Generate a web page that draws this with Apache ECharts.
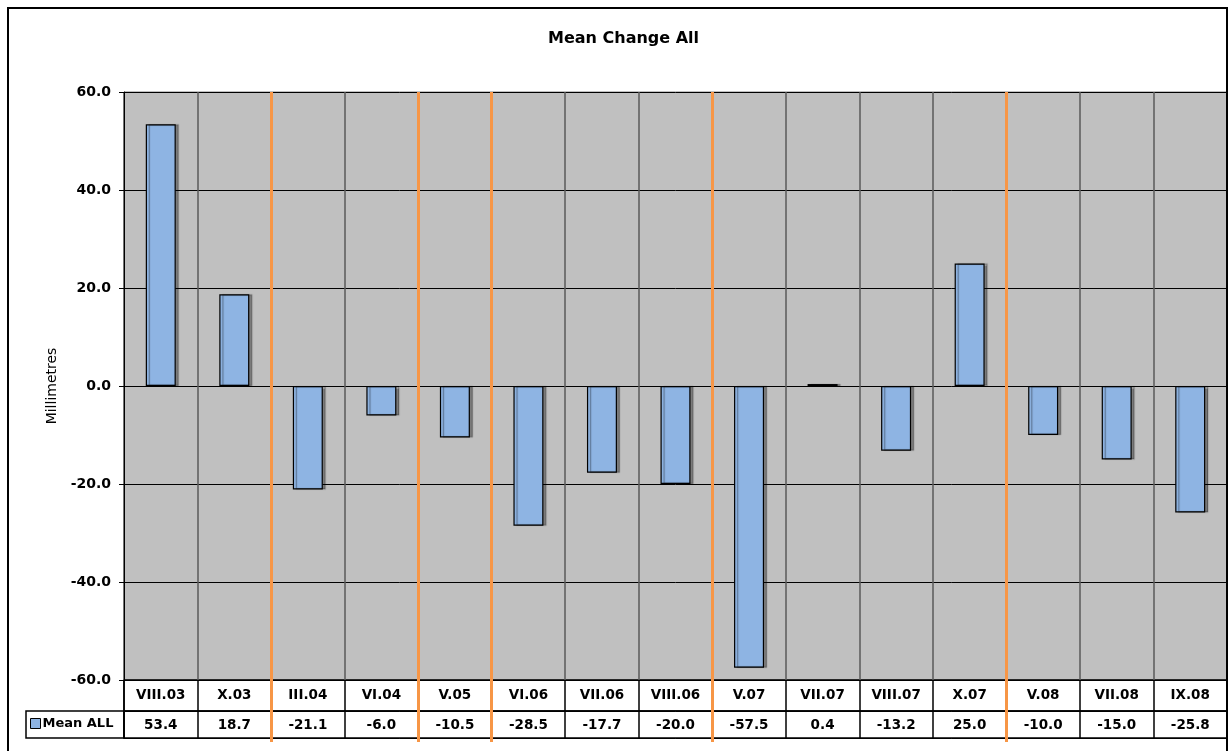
<!DOCTYPE html>
<html>
<head>
<meta charset="utf-8">
<script src="https://cdn.jsdelivr.net/npm/echarts@6/dist/echarts.min.js"></script>
<style>
html,body{margin:0;padding:0;background:#fff;}
#chart{width:1228px;height:751px;}
</style>
</head>
<body>
<div id="chart"></div>
<script>
// ---- data ----
const categories = ['VIII.03','X.03','III.04','VI.04','V.05','VI.06','VII.06','VIII.06','V.07','VII.07','VIII.07','X.07','V.08','VII.08','IX.08'];
const meanAll = [53.4, 18.7, -21.1, -6.0, -10.5, -28.5, -17.7, -20.0, -57.5, 0.4, -13.2, 25.0, -10.0, -15.0, -25.8];
const yTicks = { min: -60, max: 60, step: 20 };
// boundaries (number of categories before the orange divider)
const yearBreaks = [2, 4, 5, 8, 12];
const seriesName = 'Mean ALL';
const titleText = 'Mean Change All';
const yAxisName = 'Millimetres';

const FONT = 'DejaVu Sans, Liberation Sans, Arial, sans-serif';
const chart = echarts.init(document.getElementById('chart'));

const PL = 124, PW = 1103;

chart.setOption({
  animation: false,
  backgroundColor: '#ffffff',
  title: {
    text: titleText, left: 548, top: 31, padding: 0,
    textStyle: { fontFamily: FONT, fontSize: 16, fontWeight: 'bold', color: '#000' }
  },
  legend: {
    data: [seriesName], left: 30, top: 717, itemWidth: 10, itemHeight: 10, itemGap: 4,
    icon: 'rect', padding: 0,
    itemStyle: { borderColor: '#000', borderWidth: 1 },
    textStyle: { fontFamily: FONT, fontSize: 13, fontWeight: 'bold', color: '#000', padding: [0,0,0,-3] }
  },
  graphic: [
    { type: 'rect', shape: { x: 8, y: 8, width: 1219, height: 780 }, style: { fill: 'none', stroke: '#000', lineWidth: 2 }, silent: true, z: 100 },
    { type: 'rect', shape: { x: 26, y: 711, width: 98, height: 27 }, style: { fill: 'none', stroke: '#000', lineWidth: 1.5 }, silent: true, z: 100 }
  ],
  grid: [
    { left: PL, top: 92, width: PW, height: 588, show: true, backgroundColor: '#c0c0c0', borderColor: '#808080', borderWidth: 1 },
    { left: PL, top: 680, width: PW, height: 31, show: true, backgroundColor: '#fff', borderColor: '#000', borderWidth: 1.5 },
    { left: PL, top: 711, width: PW, height: 27, show: true, backgroundColor: '#fff', borderColor: '#000', borderWidth: 1.5 },
    { left: PL, top: 92, width: PW, height: 650 }
  ],
  xAxis: [
    { gridIndex: 0, type: 'category', data: categories,
      axisLine: { onZero: false, lineStyle: { color: '#000', width: 1 } },
      axisTick: { show: false }, axisLabel: { show: false },
      splitLine: { show: true, interval: 0, lineStyle: { color: '#5a5a5a', width: 1.5 } } },
    { gridIndex: 1, type: 'category', data: categories,
      axisLine: { lineStyle: { color: '#000' } }, axisTick: { show: false },
      axisLabel: { interval: 0, margin: -23, color: '#000', fontFamily: FONT, fontSize: 13.5, fontWeight: 'bold' },
      splitLine: { show: true, interval: 0, lineStyle: { color: '#000', width: 1.5 } } },
    { gridIndex: 2, type: 'category', data: categories,
      axisLine: { lineStyle: { color: '#000' } }, axisTick: { show: false },
      axisLabel: { interval: 0, margin: -20, color: '#000', fontFamily: FONT, fontSize: 13.5, fontWeight: 'bold',
        formatter: (v, i) => meanAll[i].toFixed(1) },
      splitLine: { show: true, interval: 0, lineStyle: { color: '#000', width: 1.5 } } },
    { gridIndex: 3, type: 'value', min: 0, max: categories.length, show: false }
  ],
  yAxis: [
    { gridIndex: 0, type: 'value', min: yTicks.min, max: yTicks.max, interval: yTicks.step,
      name: yAxisName, nameLocation: 'middle', nameGap: 64, nameRotate: 90,
      nameTextStyle: { fontFamily: FONT, fontSize: 14, color: '#000' },
      axisLine: { show: true, lineStyle: { color: '#000', width: 1 } },
      axisTick: { show: true, length: 5, lineStyle: { color: '#000' } },
      axisLabel: { margin: 13, color: '#000', fontFamily: FONT, fontSize: 14, fontWeight: 'bold',
        formatter: v => v.toFixed(1) },
      splitLine: { show: true, lineStyle: { color: '#000', width: 1 } } },
    { gridIndex: 1, type: 'value', show: false },
    { gridIndex: 2, type: 'value', show: false },
    { gridIndex: 3, type: 'value', min: 0, max: 1, show: false }
  ],
  series: [
    { name: seriesName, type: 'bar', xAxisIndex: 0, yAxisIndex: 0, data: meanAll, barWidth: 30,
      itemStyle: { color: '#8eb4e3', borderColor: '#000', borderWidth: 1.2,
        shadowColor: 'rgba(0,0,0,0.35)', shadowOffsetX: 3, shadowOffsetY: 0, shadowBlur: 1 } },
    { name: 'breaks', type: 'scatter', xAxisIndex: 3, yAxisIndex: 3, data: [[0, 0]], symbolSize: 0,
      silent: true, z: 20,
      markLine: { silent: true, symbol: 'none', label: { show: false },
        lineStyle: { color: '#f79646', width: 3, type: 'solid' },
        data: yearBreaks.map(b => ({ xAxis: b })) } }
  ]
});
</script>
</body>
</html>
